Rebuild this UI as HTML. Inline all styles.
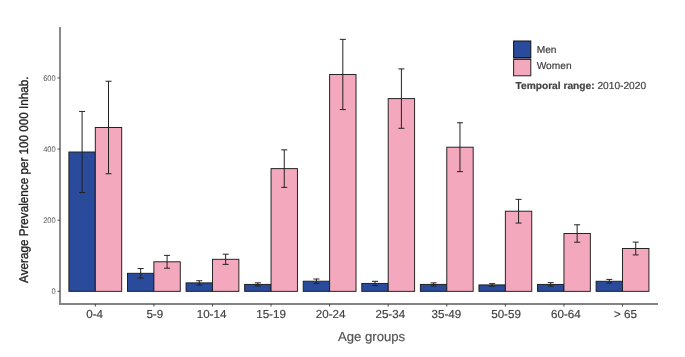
<!DOCTYPE html>
<html><head><meta charset="utf-8"><style>
html,body{margin:0;padding:0;background:#fff;}
svg{display:block;}
text{font-family:"Liberation Sans",sans-serif;text-rendering:geometricPrecision;}
.yt{font-size:8.1px;fill:#555;}
.xt{font-size:11.6px;fill:#424242;stroke:#424242;stroke-width:0.2px;}
.ttl{font-size:12px;fill:#424242;stroke:#424242;stroke-width:0.2px;}
.lg{font-size:10.2px;fill:#424242;stroke:#424242;stroke-width:0.2px;}
</style></head><body>
<svg width="685" height="357" viewBox="0 0 685 357">
<defs><filter id="gs" x="-0.05" y="-0.05" width="1.1" height="1.1"><feColorMatrix type="saturate" values="0"/><feGaussianBlur stdDeviation="0.35"/></filter></defs>
<rect width="685" height="357" fill="#fff"/>
<rect x="68.90" y="152.00" width="26.40" height="139.35" fill="#2a4a9b" stroke="#1c1c1c" stroke-width="0.95"/>
<rect x="95.30" y="127.49" width="26.40" height="163.86" fill="#f3a8bd" stroke="#1c1c1c" stroke-width="0.95"/>
<rect x="127.48" y="273.31" width="26.40" height="18.04" fill="#2a4a9b" stroke="#1c1c1c" stroke-width="0.95"/>
<rect x="153.88" y="261.79" width="26.40" height="29.56" fill="#f3a8bd" stroke="#1c1c1c" stroke-width="0.95"/>
<rect x="186.06" y="282.88" width="26.40" height="8.47" fill="#2a4a9b" stroke="#1c1c1c" stroke-width="0.95"/>
<rect x="212.46" y="259.30" width="26.40" height="32.05" fill="#f3a8bd" stroke="#1c1c1c" stroke-width="0.95"/>
<rect x="244.64" y="284.41" width="26.40" height="6.94" fill="#2a4a9b" stroke="#1c1c1c" stroke-width="0.95"/>
<rect x="271.04" y="168.62" width="26.40" height="122.73" fill="#f3a8bd" stroke="#1c1c1c" stroke-width="0.95"/>
<rect x="303.22" y="281.21" width="26.40" height="10.14" fill="#2a4a9b" stroke="#1c1c1c" stroke-width="0.95"/>
<rect x="329.62" y="74.48" width="26.40" height="216.87" fill="#f3a8bd" stroke="#1c1c1c" stroke-width="0.95"/>
<rect x="361.80" y="283.42" width="26.40" height="7.93" fill="#2a4a9b" stroke="#1c1c1c" stroke-width="0.95"/>
<rect x="388.20" y="98.60" width="26.40" height="192.75" fill="#f3a8bd" stroke="#1c1c1c" stroke-width="0.95"/>
<rect x="420.38" y="284.41" width="26.40" height="6.94" fill="#2a4a9b" stroke="#1c1c1c" stroke-width="0.95"/>
<rect x="446.78" y="147.20" width="26.40" height="144.15" fill="#f3a8bd" stroke="#1c1c1c" stroke-width="0.95"/>
<rect x="478.96" y="284.91" width="26.40" height="6.44" fill="#2a4a9b" stroke="#1c1c1c" stroke-width="0.95"/>
<rect x="505.36" y="211.20" width="26.40" height="80.15" fill="#f3a8bd" stroke="#1c1c1c" stroke-width="0.95"/>
<rect x="537.54" y="284.41" width="26.40" height="6.94" fill="#2a4a9b" stroke="#1c1c1c" stroke-width="0.95"/>
<rect x="563.94" y="233.51" width="26.40" height="57.84" fill="#f3a8bd" stroke="#1c1c1c" stroke-width="0.95"/>
<rect x="596.12" y="281.28" width="26.40" height="10.07" fill="#2a4a9b" stroke="#1c1c1c" stroke-width="0.95"/>
<rect x="622.52" y="248.52" width="26.40" height="42.83" fill="#f3a8bd" stroke="#1c1c1c" stroke-width="0.95"/>
<path d="M82.10 111.45V192.56M79.10 111.45H85.10M79.10 192.56H85.10" stroke="#222" stroke-width="1" fill="none"/>
<path d="M108.50 81.24V173.74M105.50 81.24H111.50M105.50 173.74H111.50" stroke="#222" stroke-width="1" fill="none"/>
<path d="M140.68 268.55V278.08M137.68 268.55H143.68M137.68 278.08H143.68" stroke="#222" stroke-width="1" fill="none"/>
<path d="M167.08 255.38V268.19M164.08 255.38H170.08M164.08 268.19H170.08" stroke="#222" stroke-width="1" fill="none"/>
<path d="M199.26 280.75V285.02M196.26 280.75H202.26M196.26 285.02H202.26" stroke="#222" stroke-width="1" fill="none"/>
<path d="M225.66 254.21V264.38M222.66 254.21H228.66M222.66 264.38H228.66" stroke="#222" stroke-width="1" fill="none"/>
<path d="M257.84 282.85V285.98M254.84 282.85H260.84M254.84 285.98H260.84" stroke="#222" stroke-width="1" fill="none"/>
<path d="M284.24 149.87V187.36M281.24 149.87H287.24M281.24 187.36H287.24" stroke="#222" stroke-width="1" fill="none"/>
<path d="M316.42 279.01V283.42M313.42 279.01H319.42M313.42 283.42H319.42" stroke="#222" stroke-width="1" fill="none"/>
<path d="M342.82 39.37V109.60M339.82 39.37H345.82M339.82 109.60H345.82" stroke="#222" stroke-width="1" fill="none"/>
<path d="M375.00 281.32V285.52M372.00 281.32H378.00M372.00 285.52H378.00" stroke="#222" stroke-width="1" fill="none"/>
<path d="M401.40 68.90V128.31M398.40 68.90H404.40M398.40 128.31H404.40" stroke="#222" stroke-width="1" fill="none"/>
<path d="M433.58 282.88V285.94M430.58 282.88H436.58M430.58 285.94H436.58" stroke="#222" stroke-width="1" fill="none"/>
<path d="M459.98 122.76V171.64M456.98 122.76H462.98M456.98 171.64H462.98" stroke="#222" stroke-width="1" fill="none"/>
<path d="M492.16 283.63V286.19M489.16 283.63H495.16M489.16 286.19H495.16" stroke="#222" stroke-width="1" fill="none"/>
<path d="M518.56 199.35V223.05M515.56 199.35H521.56M515.56 223.05H521.56" stroke="#222" stroke-width="1" fill="none"/>
<path d="M550.74 282.63V286.19M547.74 282.63H553.74M547.74 286.19H553.74" stroke="#222" stroke-width="1" fill="none"/>
<path d="M577.14 224.79V242.22M574.14 224.79H580.14M574.14 242.22H580.14" stroke="#222" stroke-width="1" fill="none"/>
<path d="M609.32 279.40V283.17M606.32 279.40H612.32M606.32 283.17H612.32" stroke="#222" stroke-width="1" fill="none"/>
<path d="M635.72 242.11V254.92M632.72 242.11H638.72M632.72 254.92H638.72" stroke="#222" stroke-width="1" fill="none"/>
<rect x="59" y="27" width="2" height="278" fill="#8a8a8a"/>
<rect x="59" y="303" width="599" height="2" fill="#838383"/>
<path d="M57.6 291.35H60" stroke="#444" stroke-width="1"/>
<path d="M57.6 220.20H60" stroke="#444" stroke-width="1"/>
<path d="M57.6 149.05H60" stroke="#444" stroke-width="1"/>
<path d="M57.6 77.90H60" stroke="#444" stroke-width="1"/>
<path d="M95.30 304V306.5" stroke="#444" stroke-width="1"/>
<path d="M153.88 304V306.5" stroke="#444" stroke-width="1"/>
<path d="M212.46 304V306.5" stroke="#444" stroke-width="1"/>
<path d="M271.04 304V306.5" stroke="#444" stroke-width="1"/>
<path d="M329.62 304V306.5" stroke="#444" stroke-width="1"/>
<path d="M388.20 304V306.5" stroke="#444" stroke-width="1"/>
<path d="M446.78 304V306.5" stroke="#444" stroke-width="1"/>
<path d="M505.36 304V306.5" stroke="#444" stroke-width="1"/>
<path d="M563.94 304V306.5" stroke="#444" stroke-width="1"/>
<path d="M622.52 304V306.5" stroke="#444" stroke-width="1"/>
<rect x="513.2" y="57.4" width="18" height="2.4" fill="#7a7a7a"/>
<rect x="513.6" y="41" width="17.2" height="16.6" fill="#2a4a9b" stroke="#111" stroke-width="1"/>
<rect x="513.6" y="59.4" width="17.2" height="16.4" fill="#f3a8bd" stroke="#222" stroke-width="1"/>
<g filter="url(#gs)">
<text transform="translate(55.7 294.35) scale(0.93 1)" text-anchor="end" class="yt">0</text>
<text transform="translate(55.7 223.20) scale(0.93 1)" text-anchor="end" class="yt">200</text>
<text transform="translate(55.7 152.05) scale(0.93 1)" text-anchor="end" class="yt">400</text>
<text transform="translate(55.7 80.90) scale(0.93 1)" text-anchor="end" class="yt">600</text>
<text x="94.65" y="318.1" text-anchor="middle" class="xt">0-4</text>
<text x="154.78" y="318.1" text-anchor="middle" class="xt">5-9</text>
<text x="211.56" y="318.1" text-anchor="middle" class="xt">10-14</text>
<text x="271.04" y="318.1" text-anchor="middle" class="xt">15-19</text>
<text x="330.57" y="318.1" text-anchor="middle" class="xt">20-24</text>
<text x="390.30" y="318.1" text-anchor="middle" class="xt">25-34</text>
<text x="446.38" y="318.1" text-anchor="middle" class="xt">35-49</text>
<text x="506.06" y="318.1" text-anchor="middle" class="xt">50-59</text>
<text x="565.84" y="318.1" text-anchor="middle" class="xt">60-64</text>
<text x="625.42" y="318.1" text-anchor="middle" class="xt">&gt; 65</text>
<text x="371.6" y="340.7" text-anchor="middle" class="ttl" style="font-size:13.1px;fill:#555;stroke:#555">Age groups</text>
<text transform="translate(28.2 179.7) rotate(-90) scale(1 1.08)" text-anchor="middle" class="ttl" style="font-size:11.7px;fill:#222;stroke:#222;stroke-width:0.3px">Average Prevalence per 100 000 Inhab.</text>
<text x="536.7" y="53.2" class="lg">Men</text>
<text x="536.7" y="69.3" class="lg">Women</text>
<text x="515.5" y="88.6" class="lg"><tspan font-weight="bold">Temporal range:</tspan> 2010-2020</text>
</g>
</svg>
</body></html>
